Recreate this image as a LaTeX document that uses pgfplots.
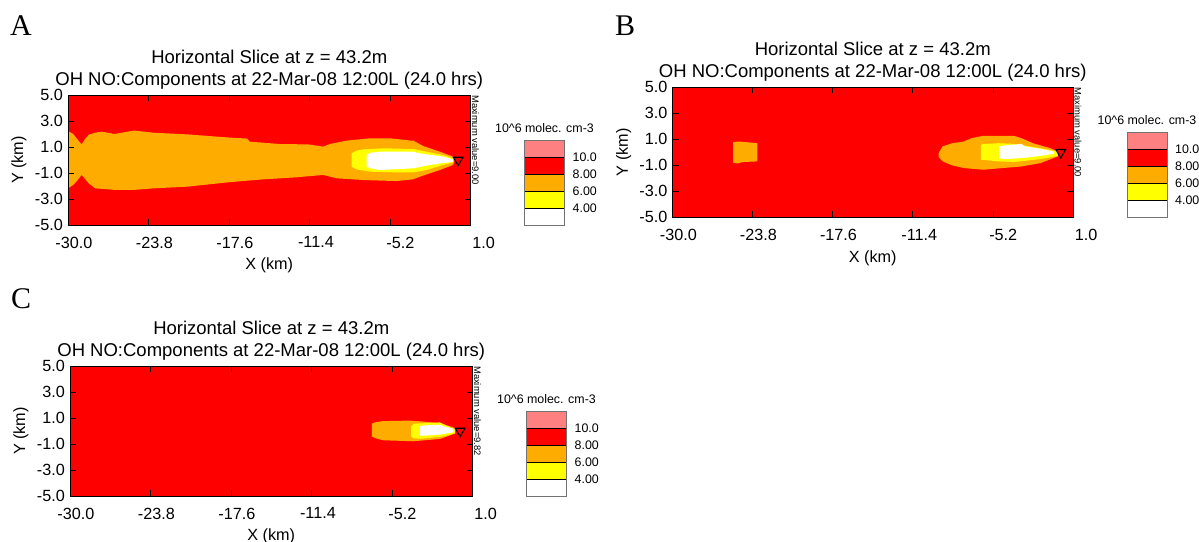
\documentclass[border=0pt]{standalone}
\usepackage{fontspec}
\setmainfont{Liberation Sans}
\newfontfamily\letterfont{Liberation Serif}
\usepackage{pgfplots}
\pgfplotsset{compat=1.18}
\usetikzlibrary{calc}

\definecolor{cRed}{RGB}{255,0,0}
\definecolor{cOrange}{RGB}{255,172,0}
\definecolor{cYellow}{RGB}{255,255,0}
\definecolor{cPink}{RGB}{255,128,128}

\newcommand\titlesize{\fontsize{18.5bp}{21bp}\selectfont}
\newcommand\ticksize{\fontsize{16.2bp}{18bp}\selectfont}
\newcommand\labelsize{\fontsize{16.2bp}{18bp}\selectfont}
\newcommand\keytitlesize{\fontsize{12.4bp}{14bp}\selectfont}
\newcommand\keysize{\fontsize{12.4bp}{14bp}\selectfont}
\newcommand\maxsize{\fontsize{9.4bp}{11bp}\selectfont}

\pgfplotsset{
  slice/.style={
    scale only axis, width=402.5bp, height=130bp, anchor=north west,
    xmin=-30, xmax=1, ymin=-5, ymax=5,
    xtick={-30,-23.8,-17.6,-11.4,-5.2,1},
    xticklabels={-30.0,-23.8,-17.6,-11.4,-5.2,1.0},
    ytick={-5,-3,-1,1,3,5},
    yticklabels={-5.0,-3.0,-1.0,1.0,3.0,5.0},
    tick align=inside, tick pos=both, major tick length=6bp,
    tick style={black, line width=0.8bp},
    axis line style={black, line width=0.8bp},
    axis on top, clip=false,
    xticklabel style={font=\ticksize, inner sep=0pt, anchor=north east, xshift=24.5bp, yshift=-11.5bp},
    yticklabel style={font=\ticksize, inner sep=0pt, anchor=east, xshift=-5bp},
    xlabel={X (km)}, ylabel={Y (km)},
    xlabel style={font=\labelsize, inner sep=0pt, at={(axis description cs:0.5,0)}, anchor=north, yshift=-33bp},
    ylabel style={font=\labelsize, inner sep=0pt, at={(axis description cs:-0.1217,0.5)}, anchor=center},
  },
  region/.style={draw=none, fill=#1, forget plot},
}

% two-line heading, colour key and maximum note, drawn relative to the axis box
\newcommand\decorations[1]{%
  \coordinate (tc) at (axis description cs:0.5,1);
  \coordinate (tr) at (axis description cs:1,1);
  \coordinate (br) at (axis description cs:1,0);
  \node[anchor=base, inner sep=0pt, font=\titlesize] at ($(tc)+(0bp,32bp)$) {Horizontal Slice at z = 43.2m};
  \node[anchor=base, inner sep=0pt, font=\titlesize] at ($(tc)+(0bp,10bp)$) {OH NO:Components at 22-Mar-08 12:00L (24.0 hrs)};
  \node[rotate=-90, anchor=west, inner sep=0pt, font=\maxsize] at ($(tr)+(5bp,0bp)$) {Maximum value=#1};
  \fill[white]   ($(br)+(54bp,0bp)$)  rectangle ($(br)+(94bp,17bp)$);
  \fill[cYellow] ($(br)+(54bp,17bp)$) rectangle ($(br)+(94bp,34bp)$);
  \fill[cOrange] ($(br)+(54bp,34bp)$) rectangle ($(br)+(94bp,51bp)$);
  \fill[cRed]    ($(br)+(54bp,51bp)$) rectangle ($(br)+(94bp,68bp)$);
  \fill[cPink]   ($(br)+(54bp,68bp)$) rectangle ($(br)+(94bp,85bp)$);
  \draw[black, line width=0.9bp] ($(br)+(54bp,17bp)$) -- ($(br)+(94bp,17bp)$);
  \draw[black, line width=0.9bp] ($(br)+(54bp,34bp)$) -- ($(br)+(94bp,34bp)$);
  \draw[black, line width=0.9bp] ($(br)+(54bp,51bp)$) -- ($(br)+(94bp,51bp)$);
  \draw[black, line width=0.9bp] ($(br)+(54bp,68bp)$) -- ($(br)+(94bp,68bp)$);
  \draw[black!55, line width=1bp] ($(br)+(54bp,0bp)$) rectangle ($(br)+(94bp,85bp)$);
  \node[anchor=west, inner sep=0pt, font=\keysize] at ($(br)+(102bp,68bp)$) {10.0};
  \node[anchor=west, inner sep=0pt, font=\keysize] at ($(br)+(102bp,51bp)$) {8.00};
  \node[anchor=west, inner sep=0pt, font=\keysize] at ($(br)+(102bp,34bp)$) {6.00};
  \node[anchor=west, inner sep=0pt, font=\keysize] at ($(br)+(102bp,17bp)$) {4.00};
  \node[anchor=base, inner sep=0pt, font=\keytitlesize] at ($(br)+(74bp,93bp)$) {10\textasciicircum 6 molec. cm-3};
}

\newcommand\source{%
  \addplot[only marks, mark=triangle, mark size=5.6bp,
    mark options={rotate=180, line width=1.1bp, draw=black, fill=none}] coordinates {(0.05,0)};
}

\begin{document}
\begin{tikzpicture}
\useasboundingbox (0,0) rectangle (1199bp,-542bp);

\node[anchor=base west, inner sep=0pt, font=\letterfont\fontsize{30bp}{30bp}\selectfont] at (10bp,-35bp) {A};
\node[anchor=base west, inner sep=0pt, font=\letterfont\fontsize{30bp}{30bp}\selectfont] at (615bp,-35bp) {B};
\node[anchor=base west, inner sep=0pt, font=\letterfont\fontsize{30bp}{30bp}\selectfont] at (11bp,-308bp) {C};

% ---------------- A ----------------
\begin{axis}[slice, at={(68bp,-95bp)}]
\addplot[region=cRed] coordinates {(-30,-5) (1,-5) (1,5) (-30,5)} -- cycle;
\addplot[region=cOrange] coordinates {
 (-30,2.23) (-29.6,2.0) (-29.2,1.5) (-28.95,1.2) (-28.7,1.6) (-28.4,1.95) (-27.9,2.1)
 (-27.4,2.18) (-26.4,2.0) (-25.6,2.15) (-24.9,2.26) (-23.4,2.1) (-20.8,1.97) (-17.5,1.72)
 (-16.2,1.65) (-16.0,1.41) (-13.7,1.23) (-11.5,1.2) (-10.35,1.03) (-9.83,1.23) (-8.55,1.49)
 (-6.75,1.67) (-5.2,1.67) (-3.67,1.5) (-3.42,1.5) (-2.65,1.08) (-1.36,0.64) (-0.34,0.26)
 (-0.2,0.05) (-0.34,-0.38) (-1.36,-0.77) (-2.65,-1.2) (-3.44,-1.49) (-4.7,-1.62) (-7.27,-1.54)
 (-9.3,-1.41) (-10.35,-1.15) (-12.4,-1.33) (-14.97,-1.49) (-17.5,-1.7) (-20.8,-2.05)
 (-23.4,-2.18) (-24.9,-2.3) (-26.4,-2.3) (-27.9,-2.18) (-28.4,-1.8) (-28.95,-1.15)
 (-29.3,-1.6) (-29.6,-1.92) (-30,-2.18)} -- cycle;
\addplot[region=cYellow] coordinates {
 (-8.16,0.51) (-7.78,0.72) (-7.27,0.82) (-5.73,0.9) (-3.42,0.85) (-2.39,0.64) (-1.1,0.38)
 (-0.34,0.13) (-0.34,-0.2) (-1.1,-0.38) (-2.39,-0.77) (-3.42,-0.95) (-4.7,-0.95)
 (-6.73,-0.9) (-7.78,-0.72) (-8.16,-0.51)} -- cycle;
\addplot[region=white] coordinates {
 (-7.0,0.38) (-6.7,0.56) (-5.98,0.64) (-3.42,0.64) (-2.9,0.51) (-1.1,0.26) (-0.34,0.05)
 (-0.34,-0.13) (-2.13,-0.38) (-3.42,-0.64) (-5.98,-0.77) (-6.7,-0.64) (-7.0,-0.51)} -- cycle;
\source
\decorations{9.00}
\end{axis}

% ---------------- B ----------------
\begin{axis}[slice, at={(672.5bp,-87.3bp)}, width=400.5bp]
\addplot[region=cRed] coordinates {(-30,-5) (1,-5) (1,5) (-30,5)} -- cycle;
\addplot[region=cOrange] coordinates {
 (-25.3,0.78) (-24.9,0.83) (-24.5,0.8) (-23.44,0.7) (-23.44,-0.7) (-24.6,-0.75)
 (-24.9,-0.85) (-25.3,-0.83)} -- cycle;
\addplot[region=cOrange] coordinates {
 (-9.4,-0.06) (-9.1,0.45) (-8.34,0.7) (-7.45,0.83) (-6.85,1.09) (-5.96,1.27) (-3.59,1.27)
 (-3.0,1.09) (-2.1,0.7) (-0.77,0.32) (-0.18,0.06) (-0.18,-0.32) (-1.51,-0.83) (-3.0,-1.09)
 (-5.96,-1.34) (-7.45,-1.21) (-8.34,-1.01) (-9.08,-0.7) (-9.4,-0.37)} -- cycle;
\addplot[region=cYellow] coordinates {
 (-6.13,0.58) (-5.96,0.63) (-4.78,0.7) (-3.59,0.65) (-1.51,0.32) (-0.18,0.06)
 (-0.18,-0.28) (-1.51,-0.52) (-3.59,-0.75) (-4.78,-0.7) (-5.96,-0.58) (-6.13,-0.58)} -- cycle;
\addplot[region=white] coordinates {
 (-4.7,0.45) (-4.3,0.52) (-3.0,0.65) (-2.7,0.45) (-1.51,0.27) (-0.48,0.06)
 (-0.48,-0.12) (-1.51,-0.27) (-3.0,-0.45) (-4.3,-0.52) (-4.7,-0.45)} -- cycle;
\source
\decorations{9.00}
\end{axis}

% ---------------- C ----------------
\begin{axis}[slice, at={(70bp,-366bp)}]
\addplot[region=cRed] coordinates {(-30,-5) (1,-5) (1,5) (-30,5)} -- cycle;
\addplot[region=cOrange] coordinates {
 (-6.75,0.56) (-6.52,0.66) (-5.93,0.76) (-3.87,0.8) (-2.98,0.74) (-1.51,0.61) (-0.33,0.23)
 (-0.33,-0.2) (-1.51,-0.61) (-3.57,-0.79) (-5.93,-0.71) (-6.52,-0.54) (-6.75,-0.41)} -- cycle;
\addplot[region=cYellow] coordinates {
 (-3.72,0.36) (-3.5,0.56) (-1.51,0.66) (-0.9,0.36) (-0.33,0.1) (-0.33,-0.15) (-1.2,-0.41)
 (-2.98,-0.6) (-3.57,-0.55) (-3.72,-0.41)} -- cycle;
\addplot[region=white] coordinates {
 (-3.04,0.36) (-2.7,0.43) (-1.51,0.48) (-1.2,0.36) (-0.48,0.18) (-0.48,-0.1)
 (-1.51,-0.28) (-2.7,-0.36) (-3.04,-0.36)} -- cycle;
\source
\decorations{9.82}
\end{axis}
\end{tikzpicture}
\end{document}
